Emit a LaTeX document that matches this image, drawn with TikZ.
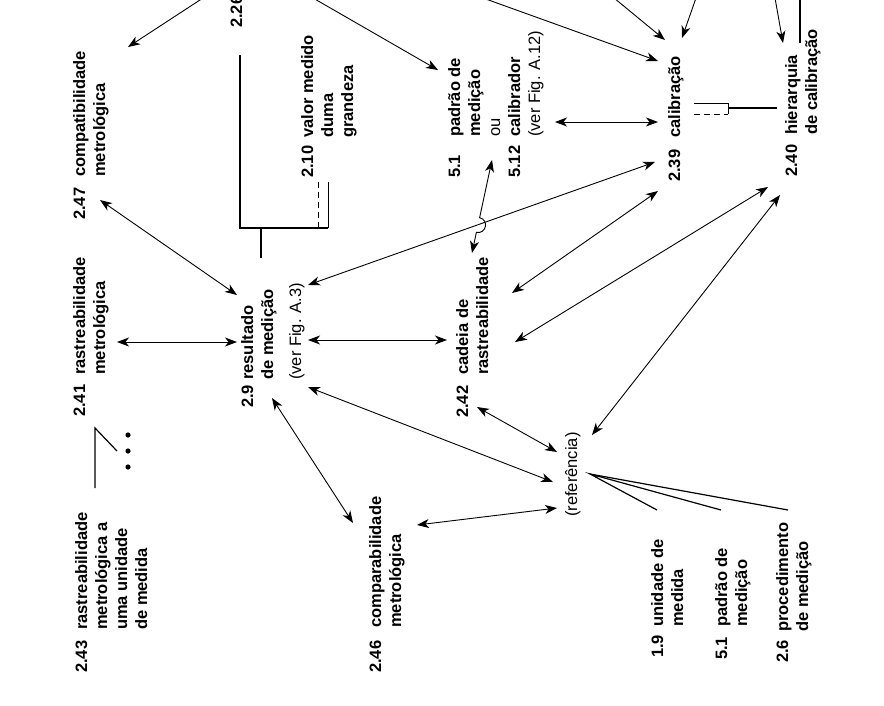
\documentclass[tikz,border=0pt]{standalone}
\usepackage{fontspec}
\setmainfont{Liberation Sans}
\usetikzlibrary{arrows.meta}
\newcommand\nb[2]{\makebox[#1][l]{#2}}
\begin{document}
\begin{tikzpicture}[x=1pt,y=-1pt,
  >={Stealth[length=12pt,width=9pt,inset=3.5pt]},
  lab/.style={rotate=90,anchor=base west,inner sep=0pt,font=\fontsize{16.5}{20}\selectfont\bfseries},
  labr/.style={lab,font=\fontsize{16.5}{20}\selectfont},
  arr/.style={line width=0.9pt,<->},
  sarr/.style={line width=0.9pt,->},
  heavy/.style={line width=1.8pt},
  thinl/.style={line width=1pt},
  fan/.style={line width=1.2pt},
  dashl/.style={line width=1pt,dash pattern=on 6pt off 4pt}]
\useasboundingbox (0,0) rectangle (884,705);
\clip (0,0) rectangle (884,705);

% ---------- labels ----------
\node[lab] (n247) at (85,220) {\begin{tabular}[t]{@{}l@{}l@{}}\nb{43pt}{2.47}&compatibilidade\\&metrológica\end{tabular}};
\node[lab] (n226) at (242,28) {2.26};
\node[lab] (n210) at (313,178) {\begin{tabular}[t]{@{}l@{}l@{}}\nb{40pt}{2.10}&valor medido\\&duma\\&grandeza\end{tabular}};
\node[lab] (n512) at (460,178) {\begin{tabular}[t]{@{}l@{}l@{}}\nb{41pt}{5.1}&padrão de\\&medição\\&\mdseries ou\\5.12&calibrador\\&\mdseries (ver Fig. A.12)\end{tabular}};
\node[lab] (n239) at (680,182) {\nb{44pt}{2.39}calibração};
\node[lab] (n240) at (797,177) {\begin{tabular}[t]{@{}l@{}l@{}}\nb{42pt}{2.40}&hierarquia\\&de calibração\end{tabular}};
\node[lab] (n241) at (85,417) {\begin{tabular}[t]{@{}l@{}l@{}}\nb{42pt}{2.41}&rastreabilidade\\&metrológica\end{tabular}};
\node[lab] (n29) at (253,408) {\begin{tabular}[t]{@{}l@{}l@{}}\nb{28pt}{2.9}&resultado\\&de medição\\[8pt]&\mdseries (ver Fig. A.3)\end{tabular}};
\node[lab] (n242) at (468,418) {\begin{tabular}[t]{@{}l@{}l@{}}\nb{43pt}{2.42}&cadeia de\\&rastreabilidade\end{tabular}};
\node[labr] (ref) at (577,517) {(referência)};
\node[lab] (n243) at (87,673) {\begin{tabular}[t]{@{}l@{}l@{}}\nb{43pt}{2.43}&rastreabilidade\\&metrológica a\\&uma unidade\\&de medida\end{tabular}};
\node[lab] (n246) at (381,673) {\begin{tabular}[t]{@{}l@{}l@{}}\nb{45pt}{2.46}&comparabilidade\\&metrológica\end{tabular}};
\node[lab] (n19) at (663,658) {\begin{tabular}[t]{@{}l@{}l@{}}\nb{31pt}{1.9}&unidade de\\&medida\end{tabular}};
\node[lab] (n51) at (727,660) {\begin{tabular}[t]{@{}l@{}l@{}}\nb{33pt}{5.1}&padrão de\\&medição\end{tabular}};
\node[lab] (n26) at (788,663) {\begin{tabular}[t]{@{}l@{}l@{}}\nb{31pt}{2.6}&procedimento\\&de medição\end{tabular}};

% ---------- connector end points ----------
\coordinate (t1) at (203,-2);   \coordinate (cmpT) at (128,47);
\coordinate (t2) at (313,-2);   \coordinate (padT) at (438,70);
\coordinate (t3) at (483,-2);   \coordinate (calA) at (658,61);
\coordinate (t4) at (614,-2);   \coordinate (calB) at (665,40);
\coordinate (t5) at (696,-2);   \coordinate (calC) at (682,38);
\coordinate (t6) at (775,-2);   \coordinate (hieT) at (783,43);
\coordinate (figR) at (555,122); \coordinate (calL) at (658,122);
\coordinate (resR1) at (308,285); \coordinate (calD) at (655,162);
\coordinate (cadT) at (472,253); \coordinate (calbB) at (492,160);
\coordinate (b1) at (476.4,232.3); \coordinate (b2) at (479.6,217.7);
\coordinate (cadR1) at (512,293); \coordinate (calE) at (658,191);
\coordinate (cadR2) at (515,342); \coordinate (hieA) at (768,187);
\coordinate (refT) at (592,435); \coordinate (hieB) at (780,195);
\coordinate (rasR) at (117,342); \coordinate (resL) at (237,342);
\coordinate (cmpB) at (100,200); \coordinate (resT) at (237,295);
\coordinate (resR2) at (308,340); \coordinate (cadL) at (447,340);
\coordinate (resR3) at (308,387); \coordinate (refL1) at (553,482);
\coordinate (resB) at (272,398); \coordinate (comT) at (353,523);
\coordinate (cadB) at (477,407); \coordinate (refL0) at (557,452);
\coordinate (comR) at (417,525); \coordinate (refL2) at (557,508);
\coordinate (fanO) at (590,474);
\coordinate (f1) at (657,510); \coordinate (f2) at (721,510); \coordinate (f3) at (788,510);

% ---------- arrows ----------
\draw[sarr] (t1) -- (cmpT);
\draw[sarr] (t2) -- (padT);
\draw[sarr] (t3) -- (calA);
\draw[sarr] (t4) -- (calB);
\draw[sarr] (t5) -- (calC);
\draw[sarr] (t6) -- (hieT);
\draw[arr] (figR) -- (calL);
\draw[arr] (resR1) -- (calD);
\draw[arr] (cadT) -- (b1) .. controls (486.2,234.4) and (489.4,219.8) .. (b2) -- (calbB);
\draw[arr] (cadR1) -- (calE);
\draw[arr] (cadR2) -- (hieA);
\draw[arr] (refT) -- (hieB);
\draw[arr] (rasR) -- (resL);
\draw[arr] (cmpB) -- (resT);
\draw[arr] (resR2) -- (cadL);
\draw[arr] (resR3) -- (refL1);
\draw[arr] (resB) -- (comT);
\draw[arr] (cadB) -- (refL0);
\draw[arr] (comR) -- (refL2);

% ---------- fan from (referencia) ----------
\draw[fan] (f1) -- (fanO) -- (f2);
\draw[fan] (fanO) -- (f3);

% ---------- brackets ----------
\coordinate (v1) at (240,55); \coordinate (v2) at (240,228); \coordinate (v3) at (328,228);
\coordinate (s1) at (261,228); \coordinate (s2) at (261,258);
\coordinate (v4) at (328,182); \coordinate (d1) at (318,228); \coordinate (d2) at (318,182);
\draw[heavy] (v1) -- (v2) -- (v3);
\draw[heavy] (s1) -- (s2);
\draw[thinl] (v3) -- (v4);
\draw[dashl] (d1) -- (d2);

\coordinate (c1) at (694,103); \coordinate (c2) at (728,103); \coordinate (c3) at (728,114);
\coordinate (c4) at (694,114); \coordinate (c5) at (728,108); \coordinate (c6) at (777,108);
\draw[thinl] (c1) -- (c2) -- (c3);
\draw[dashl] (c4) -- (c3);
\draw[heavy] (c5) -- (c6);

\coordinate (h1) at (800,-2); \coordinate (h2) at (800,43);
\draw[heavy] (h1) -- (h2);

% ---------- 2.43 tree ----------
\coordinate (g1) at (95,488); \coordinate (g2) at (95,428); \coordinate (g3) at (117,451);
\draw[fan] (g1) -- (g2) -- (g3);
\fill (128,435) circle (2.6pt) (128,451) circle (2.6pt) (128,467) circle (2.6pt);
\end{tikzpicture}
\end{document}
